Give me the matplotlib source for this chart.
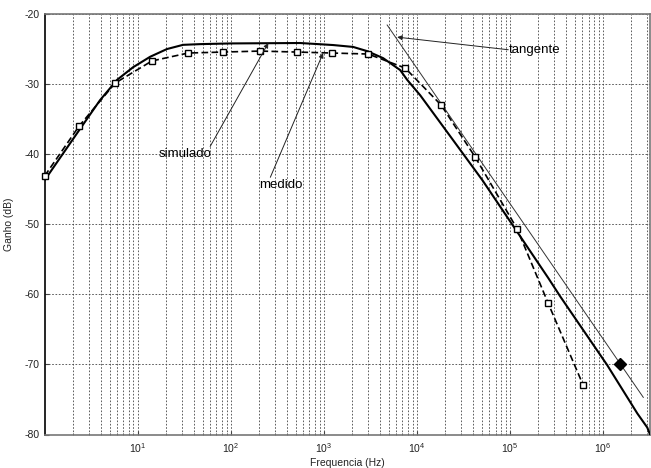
import matplotlib
matplotlib.use("Agg")
import matplotlib.pyplot as plt
from matplotlib.ticker import LogLocator, FixedLocator, NullFormatter

plt.rcParams['font.family'] = ['Liberation Sans', 'DejaVu Sans']
plt.rcParams['axes.unicode_minus'] = False

# Simulated response (solid)
sim_freq = [1, 2.34, 3.93, 5.99, 8.9, 13.6, 20.6, 30.7, 46.8, 100, 556, 1260,
            2066, 2924, 4340, 6610, 7870, 10860, 24500, 50500, 259000, 347000,
            1.11e6, 2.34e6, 2.99e6, 3.2e6]
sim_db = [-43.7, -36.6, -32.3, -29.4, -27.6, -26.1, -25.0, -24.4, -24.3, -24.2,
          -24.14, -24.43, -24.7, -25.3, -26.3, -28.0, -29.4, -31.6, -38.0, -43.7,
          -57.7, -60.3, -70.1, -77.0, -79.0, -80.0]

# Measured response (dashed, square markers)
med_freq = [1, 2.34, 5.71, 14.2, 34.8, 82.6, 206, 516, 1228, 2993, 7480,
            18240, 42400, 120000, 258000, 614000]
med_db = [-43.1, -36.0, -29.86, -26.7, -25.57, -25.43, -25.29, -25.43, -25.57,
          -25.71, -27.71, -33.0, -40.43, -50.7, -61.3, -73.0]

# Asymptotic tangent and its marker
tan_freq = [4790, 2.71e6]
tan_db = [-21.57, -74.7]
mark_freq = [1.535e6]
mark_db = [-70.0]

y_ticks = [-80, -70, -60, -50, -40, -30, -20]
x_ticks = [1e1, 1e2, 1e3, 1e4, 1e5, 1e6]

fig = plt.figure(figsize=(6.51, 4.68), dpi=100)
ax = fig.add_axes([44.7 / 651, 33.5 / 468, (650 - 44.7) / 651, (434.5 - 14) / 468])

ax.set_xscale('log')
ax.set_xlim(1, 3.2e6)
ax.set_ylim(-80, -20)
ax.yaxis.set_major_locator(FixedLocator(y_ticks))
ax.xaxis.set_major_locator(FixedLocator(x_ticks))
ax.xaxis.set_minor_locator(LogLocator(base=10, subs=range(2, 10), numticks=100))
ax.xaxis.set_minor_formatter(NullFormatter())

grid_kw = dict(color='#444444', linestyle=(0, (2, 2)), linewidth=0.6)
ax.grid(True, which='major', **grid_kw)
ax.grid(True, which='minor', axis='x', **grid_kw)
ax.set_axisbelow(True)

ax.plot(sim_freq, sim_db, color='black', linewidth=1.5, zorder=3)
ax.plot(med_freq, med_db, color='black', linewidth=1.2, linestyle=(0, (4, 2)),
        marker='s', markersize=4, markerfacecolor='white', markeredgecolor='black',
        markeredgewidth=1.0, zorder=4, clip_on=False)
ax.plot(tan_freq, tan_db, color='#333333', linewidth=0.7, zorder=3)
ax.plot(mark_freq, mark_db, linestyle='none', marker='D', markersize=6,
        color='black', zorder=5)

arrow_kw = dict(arrowstyle='-|>', color='#222222', lw=0.7, mutation_scale=7,
                shrinkA=0, shrinkB=0)
ax.annotate('', xy=(253, -24.14), xytext=(60, -38.9), arrowprops=arrow_kw, zorder=6)
ax.annotate('', xy=(982, -25.57), xytext=(266, -43.3), arrowprops=arrow_kw, zorder=6)
ax.annotate('', xy=(6140, -23.3), xytext=(96000, -25.1), arrowprops=arrow_kw, zorder=6)

ax.text(32.4, -40.0, 'simulado', fontsize=9.5, ha='center', va='center', zorder=7)
ax.text(349, -44.4, 'medido', fontsize=9.5, ha='center', va='center', zorder=7)
ax.text(98400, -25.1, 'tangente', fontsize=9.5, ha='left', va='center', zorder=7)

ax.tick_params(axis='both', which='both', direction='in', labelsize=7.5,
               labelcolor='#222222', color='#444444')
ax.tick_params(which='major', length=3)
ax.tick_params(which='minor', length=1.5)
ax.tick_params(axis='x', pad=5)

for side in ['top', 'right', 'bottom']:
    ax.spines[side].set_color('#777777')
    ax.spines[side].set_linewidth(1.2)
ax.spines['left'].set_color('black')
ax.spines['left'].set_linewidth(1.2)

ax.set_xlabel('Frequencia (Hz)', fontsize=7.5, color='#222222', labelpad=2)
ax.set_ylabel('Ganho (dB)', fontsize=7.5, color='#222222', labelpad=8)

fig.savefig('out.png', dpi=100)
